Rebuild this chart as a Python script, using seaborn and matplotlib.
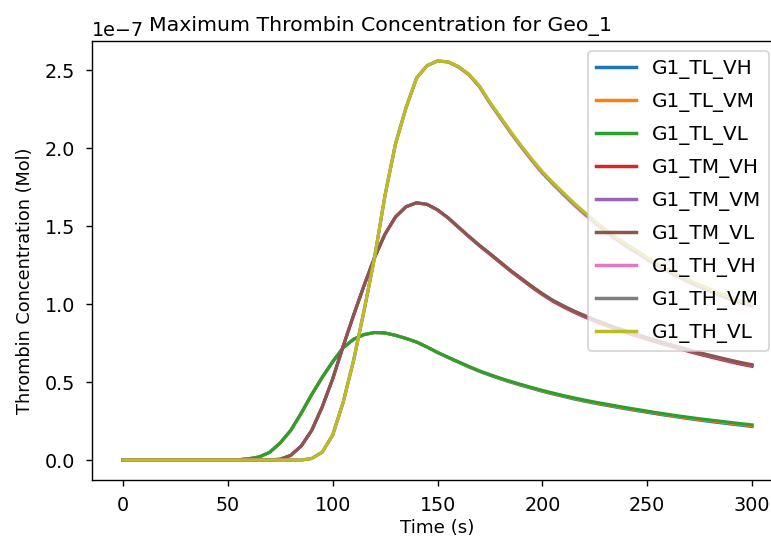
import numpy as np
import pandas as pd
import matplotlib
matplotlib.use("Agg")
import matplotlib.pyplot as plt
import seaborn as sns

# Time grid (s)
time_s = list(range(0, 301, 5))

# Thrombin concentration values in units of 1e-7 Mol
G1_TL_VH = [0]*11 + [0.002, 0.008, 0.02, 0.05, 0.11, 0.19, 0.30, 0.42, 0.53, 0.63, 0.72, 0.775, 0.805, 0.818,
            0.815, 0.80, 0.78, 0.757, 0.725, 0.69, 0.658, 0.627, 0.597, 0.569, 0.544, 0.521, 0.499, 0.479, 0.46,
            0.441, 0.424, 0.408, 0.392, 0.378, 0.364, 0.352, 0.34, 0.328, 0.317, 0.306, 0.295, 0.285, 0.275,
            0.265, 0.256, 0.247, 0.239, 0.231, 0.223, 0.215]
G1_TL_VM = [0]*11 + [0.002, 0.008, 0.02, 0.05, 0.11, 0.19, 0.30, 0.42, 0.53, 0.63, 0.72, 0.775, 0.805, 0.818,
            0.815, 0.80, 0.78, 0.757, 0.725, 0.69, 0.659, 0.629, 0.599, 0.571, 0.547, 0.523, 0.502, 0.482, 0.463,
            0.444, 0.427, 0.411, 0.396, 0.382, 0.368, 0.356, 0.344, 0.332, 0.321, 0.31, 0.299, 0.289, 0.279,
            0.269, 0.26, 0.252, 0.244, 0.236, 0.228, 0.22]
G1_TL_VL = [0]*11 + [0.002, 0.008, 0.02, 0.05, 0.11, 0.19, 0.30, 0.42, 0.53, 0.63, 0.72, 0.775, 0.805, 0.818,
            0.815, 0.80, 0.78, 0.757, 0.725, 0.69, 0.66, 0.63, 0.60, 0.572, 0.548, 0.525, 0.504, 0.484, 0.465,
            0.447, 0.43, 0.414, 0.399, 0.385, 0.372, 0.36, 0.348, 0.336, 0.325, 0.314, 0.303, 0.293, 0.283,
            0.274, 0.265, 0.257, 0.249, 0.241, 0.233, 0.226]
G1_TM_VH = [0]*14 + [0.001, 0.005, 0.03, 0.09, 0.19, 0.34, 0.52, 0.73, 0.93, 1.12, 1.30, 1.45, 1.56, 1.625,
            1.65, 1.64, 1.605, 1.553, 1.492, 1.432, 1.374, 1.32, 1.265, 1.21, 1.159, 1.108, 1.061, 1.018, 0.982,
            0.949, 0.919, 0.891, 0.865, 0.84, 0.817, 0.795, 0.774, 0.754, 0.734, 0.715, 0.696, 0.678, 0.661,
            0.645, 0.629, 0.614, 0.601]
G1_TM_VM = [0]*14 + [0.001, 0.005, 0.03, 0.09, 0.19, 0.34, 0.52, 0.73, 0.93, 1.12, 1.30, 1.45, 1.56, 1.625,
            1.65, 1.64, 1.605, 1.554, 1.494, 1.434, 1.376, 1.323, 1.268, 1.213, 1.163, 1.112, 1.065, 1.022, 0.987,
            0.954, 0.924, 0.896, 0.871, 0.846, 0.823, 0.801, 0.78, 0.76, 0.74, 0.721, 0.702, 0.684, 0.667,
            0.651, 0.635, 0.62, 0.607]
G1_TM_VL = [0]*14 + [0.001, 0.005, 0.03, 0.09, 0.19, 0.34, 0.52, 0.73, 0.93, 1.12, 1.30, 1.45, 1.56, 1.625,
            1.65, 1.64, 1.605, 1.555, 1.495, 1.435, 1.378, 1.325, 1.27, 1.215, 1.165, 1.115, 1.068, 1.025, 0.99,
            0.957, 0.928, 0.90, 0.875, 0.85, 0.828, 0.806, 0.785, 0.765, 0.745, 0.726, 0.707, 0.689, 0.672,
            0.656, 0.64, 0.625, 0.612]
G1_TH_VH = [0]*18 + [0.01, 0.05, 0.16, 0.37, 0.64, 0.96, 1.30, 1.70, 2.03, 2.26, 2.45, 2.53, 2.56, 2.553,
            2.521, 2.47, 2.394, 2.288, 2.192, 2.096, 2.006, 1.92, 1.839, 1.769, 1.702, 1.637, 1.577, 1.52, 1.465,
            1.415, 1.369, 1.328, 1.284, 1.244, 1.207, 1.172, 1.139, 1.108, 1.079, 1.052, 1.027, 1.004, 0.985]
G1_TH_VM = [0]*18 + [0.01, 0.05, 0.16, 0.37, 0.64, 0.96, 1.30, 1.70, 2.03, 2.26, 2.45, 2.53, 2.56, 2.554,
            2.523, 2.473, 2.397, 2.292, 2.196, 2.101, 2.011, 1.925, 1.845, 1.775, 1.709, 1.644, 1.584, 1.528, 1.473,
            1.423, 1.377, 1.337, 1.292, 1.252, 1.215, 1.18, 1.147, 1.116, 1.087, 1.06, 1.035, 1.012, 0.993]
G1_TH_VL = [0]*18 + [0.01, 0.05, 0.16, 0.37, 0.64, 0.96, 1.30, 1.70, 2.03, 2.26, 2.45, 2.53, 2.56, 2.555,
            2.525, 2.475, 2.40, 2.295, 2.20, 2.105, 2.015, 1.93, 1.85, 1.78, 1.715, 1.65, 1.59, 1.535, 1.48,
            1.43, 1.385, 1.345, 1.30, 1.26, 1.223, 1.188, 1.155, 1.124, 1.095, 1.068, 1.043, 1.02, 1.0]

series_names = ["G1_TL_VH", "G1_TL_VM", "G1_TL_VL", "G1_TM_VH", "G1_TM_VM", "G1_TM_VL",
                "G1_TH_VH", "G1_TH_VM", "G1_TH_VL"]
series_values = [G1_TL_VH, G1_TL_VM, G1_TL_VL, G1_TM_VH, G1_TM_VM, G1_TM_VL,
                 G1_TH_VH, G1_TH_VM, G1_TH_VL]
x_ticks = [0, 50, 100, 150, 200, 250, 300]
y_ticks = [0.0, 0.5e-7, 1.0e-7, 1.5e-7, 2.0e-7, 2.5e-7]
unit = 1e-7

frames = []
for name, vals in zip(series_names, series_values):
    frames.append(pd.DataFrame({"Time": time_s, "Conc": np.array(vals) * unit, "Series": name}))
df = pd.concat(frames, ignore_index=True)

W, H, DPI = 771, 545, 125
fig = plt.figure(figsize=(W / DPI, H / DPI), dpi=DPI)
ax = fig.add_axes([91.5 / W, (H - 480) / H, 692 / W, 439 / H])

sns.lineplot(data=df, x="Time", y="Conc", hue="Series", hue_order=series_names,
             palette=sns.color_palette("tab10", 9), linewidth=1.8, ax=ax, legend=True)
for ln in ax.get_lines():
    ln.set_solid_joinstyle("round")

ax.set_xticks(x_ticks)
ax.set_yticks(y_ticks)
ax.tick_params(axis="both", labelsize=11, pad=6)
ax.yaxis.get_offset_text().set_fontsize(11)
ax.set_xlabel("Time (s)", fontsize=10.5, labelpad=2)
ax.set_ylabel("Thrombin Concentration (Mol)", fontsize=10.2, labelpad=6)
ax.yaxis.label.set_y(0.455)
ax.set_title("Maximum Thrombin Concentration for Geo_1", x=0.417, fontsize=11.8)

handles, labels = ax.get_legend_handles_labels()
leg = ax.legend(handles, labels, loc="upper right", bbox_to_anchor=(769 / W, 1 - 51 / H),
                bbox_transform=fig.transFigure, borderaxespad=0, fontsize=11.5,
                labelspacing=0.65)
for h in leg.get_lines():
    h.set_linewidth(2.0)

fig.savefig("out.png", dpi=DPI)
